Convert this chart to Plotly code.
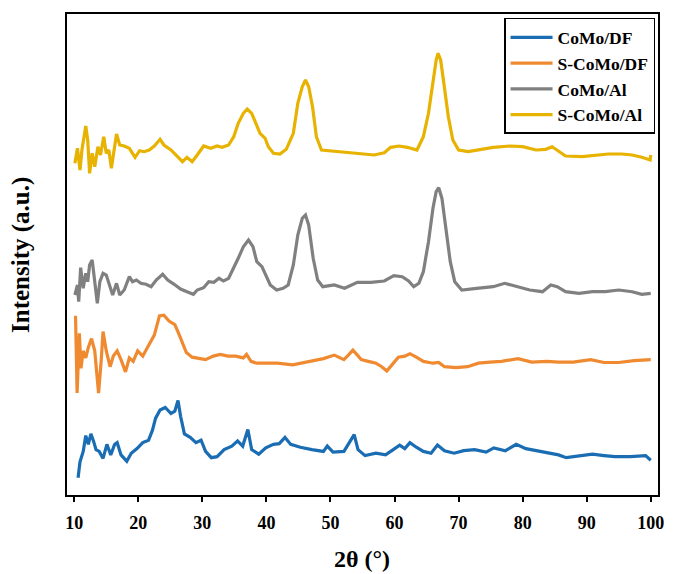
import plotly.graph_objects as go

# ---- data (2theta in degrees, intensity in arbitrary units, offset stacked) ----
x_como_df = [10.6, 10.9, 11.4, 11.8, 12.2, 12.6, 13.0, 13.4, 13.9, 14.5, 15.1, 15.7, 16.3, 16.7, 17.3, 18.2, 18.9,
             19.8, 20.7, 21.6, 22.2, 22.7, 23.4, 24.2, 25.1, 25.7, 26.2, 26.6, 27.2, 28.1, 29.0, 29.8, 30.5, 31.4,
             32.3, 33.4, 34.6, 35.5, 36.3, 37.1, 37.7, 38.8, 39.9, 41.1, 42.0, 42.9, 43.8, 45.3, 47.1, 48.9, 49.5,
             50.4, 52.1, 53.1, 53.7, 54.3, 55.4, 57.1, 58.6, 59.8, 60.8, 61.6, 62.4, 63.4, 64.5, 65.7, 66.7, 67.8,
             69.3, 70.8, 72.5, 74.3, 75.5, 77.3, 79.0, 80.5, 82.6, 84.4, 85.6, 86.8, 89.1, 90.9, 92.7, 94.4, 96.8,
             99.2, 100.0]
y_como_df = [17.3, 33.1, 43.6, 59.4, 50.6, 61.1, 54.1, 45.4, 43.6, 36.6, 50.6, 40.1, 50.6, 52.4, 40.1, 33.8, 41.8,
             46.4, 52.4, 54.8, 64.6, 76.9, 85.0, 87.5, 81.5, 83.9, 94.5, 78.7, 61.1, 57.6, 52.4, 54.8, 43.6, 37.3,
             38.3, 45.4, 48.9, 54.1, 48.9, 65.4, 45.4, 40.8, 47.1, 50.6, 51.3, 57.6, 50.6, 47.8, 45.4, 43.6, 48.9,
             42.8, 43.6, 54.1, 60.4, 45.4, 39.4, 41.8, 40.1, 45.4, 49.9, 46.4, 52.4, 47.8, 43.6, 41.8, 49.9, 44.3,
             41.8, 44.3, 45.4, 42.9, 47.1, 44.3, 50.6, 46.4, 43.6, 41.8, 40.1, 37.3, 39.4, 40.8, 39.4, 38.3, 38.3,
             39.4, 34.8]

x_s_como_df = [10.2, 10.45, 10.8, 11.05, 11.4, 11.8, 12.2, 12.7, 13.2, 13.8, 14.2, 14.5, 15.0, 15.6, 16.1, 16.7,
               17.3, 18.0, 18.6, 19.2, 19.9, 20.7, 21.6, 22.5, 23.3, 24.0, 24.8, 25.7, 26.3, 26.9, 27.5, 28.4,
               29.6, 30.5, 31.7, 32.8, 34.0, 35.2, 36.4, 36.9, 37.6, 38.5, 39.9, 41.7, 44.1, 46.5, 48.9, 50.6,
               52.1, 52.9, 53.5, 54.1, 54.8, 55.9, 57.1, 58.0, 58.8, 59.5, 60.6, 61.6, 62.4, 63.4, 64.5, 66.0,
               66.9, 67.8, 69.6, 71.4, 73.1, 74.9, 76.7, 79.3, 81.4, 83.8, 85.6, 87.9, 90.6, 92.7, 95.0, 97.4, 100.0]
y_s_como_df = [179.2, 102.0, 161.7, 126.6, 144.1, 137.1, 147.6, 156.4, 144.1, 102.0, 133.6, 163.4, 144.1, 128.3,
               138.9, 144.1, 135.4, 123.1, 137.1, 133.6, 144.1, 138.9, 149.4, 159.9, 179.2, 179.9, 173.9, 170.4,
               161.7, 151.1, 142.4, 137.8, 136.4, 135.4, 138.9, 140.6, 138.9, 138.9, 137.1, 140.6, 133.6, 131.8,
               131.8, 131.8, 130.1, 132.9, 136.4, 139.9, 135.4, 140.6, 144.8, 140.6, 135.4, 133.6, 131.8, 128.3,
               124.1, 129.4, 137.8, 138.9, 141.3, 137.8, 133.6, 131.8, 132.5, 128.3, 127.3, 128.3, 131.8, 132.9,
               133.6, 136.4, 132.9, 133.6, 132.9, 132.9, 135.4, 132.5, 132.5, 134.3, 135.4]

x_como_al = [10.1, 10.5, 10.7, 11.0, 11.4, 11.8, 12.1, 12.4, 12.8, 13.2, 13.6, 14.0, 14.5, 15.0, 15.5, 16.0, 16.6,
             17.1, 17.8, 18.6, 19.1, 19.7, 20.4, 21.2, 22.0, 22.8, 23.8, 24.6, 25.6, 26.6, 27.6, 28.6, 29.2, 30.2,
             31.0, 31.8, 32.6, 33.3, 34.1, 34.9, 35.6, 36.4, 37.2, 37.9, 38.5, 39.3, 39.9, 40.6, 41.6, 42.6, 43.4,
             44.2, 44.9, 45.6, 46.1, 46.6, 47.3, 48.0, 48.8, 50.6, 52.2, 54.2, 56.3, 58.4, 59.9, 61.2, 62.2, 63.0,
             63.8, 64.5, 65.3, 66.0, 66.5, 66.9, 67.4, 67.9, 68.7, 69.4, 70.5, 72.8, 75.4, 77.2, 79.0, 81.1, 83.1,
             84.4, 85.4, 86.7, 88.8, 90.9, 92.9, 95.0, 97.1, 98.6, 100.0]
y_como_al = [200.0, 210.0, 193.3, 227.3, 206.7, 221.7, 213.3, 230.0, 235.0, 213.3, 191.7, 213.3, 221.7, 220.0, 210.0,
             200.0, 211.7, 200.0, 205.0, 218.3, 213.3, 215.0, 211.7, 210.7, 208.3, 215.0, 220.7, 215.0, 210.7, 206.0,
             203.3, 200.7, 205.0, 207.3, 213.3, 212.7, 216.7, 214.0, 216.7, 226.7, 236.7, 248.3, 255.0, 248.3, 233.3,
             228.3, 220.0, 210.0, 205.0, 206.7, 210.0, 230.0, 260.0, 276.7, 280.0, 270.0, 236.7, 215.0, 208.3, 210.0,
             206.7, 212.7, 212.7, 214.0, 219.3, 218.3, 214.0, 208.3, 211.7, 223.3, 253.3, 286.7, 303.3, 307.3, 296.7,
             270.0, 233.3, 213.3, 205.0, 206.7, 208.3, 211.7, 208.3, 205.0, 203.3, 210.0, 208.3, 203.3, 201.7, 203.3,
             203.3, 205.0, 203.3, 200.7, 201.7]

x_s_como_al = [10.1, 10.5, 10.9, 11.2, 11.8, 12.1, 12.4, 12.8, 13.2, 13.7, 14.1, 14.6, 15.0, 15.4, 15.8, 16.6, 17.1,
               17.8, 18.6, 19.5, 20.2, 20.9, 21.7, 22.5, 23.4, 24.0, 25.1, 26.1, 26.9, 27.6, 28.4, 29.2, 30.2, 31.3,
               32.3, 33.1, 34.1, 34.9, 35.6, 36.4, 37.0, 37.7, 38.4, 39.0, 39.8, 40.3, 41.1, 42.1, 43.1, 44.2, 44.9,
               45.6, 46.1, 46.6, 47.2, 47.8, 48.6, 50.1, 52.2, 54.2, 56.8, 58.4, 59.4, 60.7, 62.0, 63.5, 64.5, 65.3,
               66.0, 66.5, 66.8, 67.2, 67.7, 68.4, 69.1, 70.0, 71.5, 73.3, 75.4, 78.0, 80.0, 82.1, 83.6, 84.6, 85.4,
               86.7, 89.3, 91.4, 93.4, 95.5, 97.1, 98.6, 99.9, 100.0]
y_s_como_al = [331.7, 346.7, 325.0, 345.0, 369.0, 355.0, 321.7, 341.7, 328.3, 348.3, 340.0, 358.3, 341.7, 345.0,
               326.7, 361.0, 350.0, 349.0, 346.7, 337.7, 344.3, 343.3, 345.0, 349.0, 355.7, 350.0, 345.0, 339.0,
               333.3, 337.7, 333.3, 340.0, 349.0, 346.7, 349.0, 347.7, 350.0, 358.3, 371.7, 381.7, 386.0, 381.7,
               371.7, 361.7, 356.7, 348.3, 341.7, 341.0, 345.7, 361.7, 391.7, 408.3, 415.0, 408.3, 388.3, 358.3,
               345.0, 344.0, 342.3, 341.7, 340.0, 342.3, 347.7, 349.0, 347.7, 345.0, 358.3, 381.7, 415.0, 435.0,
               441.7, 435.0, 411.7, 378.3, 355.0, 345.0, 343.3, 345.7, 347.7, 349.0, 348.3, 345.0, 345.7, 348.3,
               345.0, 339.0, 338.3, 340.0, 341.0, 341.0, 340.0, 337.7, 335.0, 340.0]

series_names = ["CoMo/DF", "S-CoMo/DF", "CoMo/Al", "S-CoMo/Al"]
series_colors = ["#1a6db3", "#f08a30", "#808080", "#e8b200"]
tick_vals = [10, 20, 30, 40, 50, 60, 70, 80, 90, 100]

FONT = "Liberation Serif"

fig = go.Figure()
for name, xs, ys, col in zip(series_names,
                             [x_como_df, x_s_como_df, x_como_al, x_s_como_al],
                             [y_como_df, y_s_como_df, y_como_al, y_s_como_al],
                             series_colors):
    fig.add_trace(go.Scatter(x=xs, y=ys, mode="lines", name=name,
                             line=dict(color=col, width=3.2)))

fig.update_layout(
    width=673, height=574,
    margin=dict(l=67, r=9, t=14, b=79),
    paper_bgcolor="white", plot_bgcolor="white",
    font=dict(family=FONT, color="black"),
    showlegend=True,
    legend=dict(x=0.995, y=0.9917, xanchor="right", yanchor="top",
                bgcolor="white", bordercolor="black", borderwidth=1.5,
                font=dict(family=FONT, size=17.5, color="black", weight="bold"),
                itemwidth=42, tracegroupgap=0),
    xaxis=dict(range=[8.87, 101.13], tickvals=tick_vals, ticks="outside", ticklen=5,
               tickwidth=1.5, tickcolor="black", showline=True, linecolor="black",
               linewidth=2, mirror=True, showgrid=False, zeroline=False,
               ticklabelstandoff=5,
               tickfont=dict(family=FONT, size=18, color="black", weight="bold")),
    yaxis=dict(range=[0, 481], showticklabels=False, ticks="", showline=True,
               linecolor="black", linewidth=2, mirror=True, showgrid=False,
               zeroline=False),
    annotations=[
        dict(text="Intensity (a.u.)", textangle=-90, xref="paper", yref="paper",
             x=-0.0787, y=0.5, showarrow=False, xanchor="center", yanchor="middle",
             font=dict(family=FONT, size=25, color="black", weight="bold")),
        dict(text="2θ (°)", xref="paper", yref="paper", x=0.499, y=-0.133,
             showarrow=False, xanchor="center", yanchor="middle",
             font=dict(family=FONT, size=24, color="black", weight="bold")),
    ],
)

fig.write_html("out.html")
